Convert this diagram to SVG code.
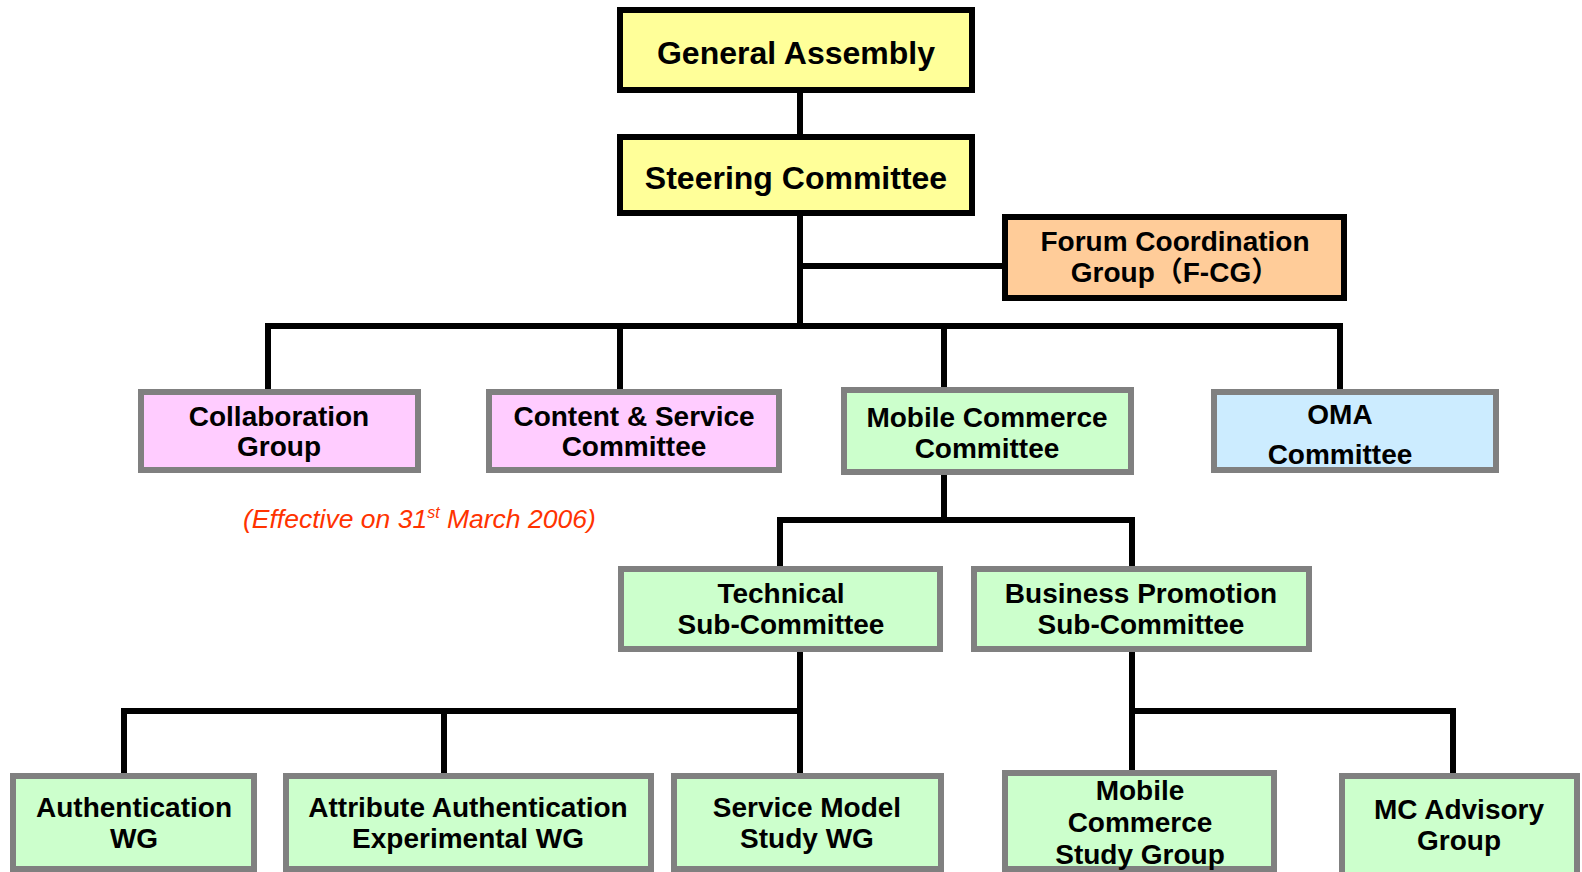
<svg xmlns="http://www.w3.org/2000/svg" width="1582" height="872" viewBox="0 0 1582 872">
<style>
.lbl{font-family:"Liberation Sans",Arial,sans-serif;font-weight:bold;fill:#000;text-anchor:middle}
.top{font-size:32px}
.mid{font-size:28px}
.yel{fill:#FFFF99;stroke:#000;stroke-width:6}
.org{fill:#FFCC99;stroke:#000;stroke-width:6}
.pnk{fill:#FFCCFF;stroke:#808080;stroke-width:6}
.grn{fill:#CCFFCC;stroke:#808080;stroke-width:6}
.blu{fill:#CCECFF;stroke:#808080;stroke-width:6}
.con{fill:none;stroke:#000;stroke-width:6;stroke-linecap:square}
.note{font-family:"Liberation Sans",Arial,sans-serif;font-style:italic;font-size:26.5px;fill:#FF3300}
</style>
<rect width="1582" height="872" fill="#fff"/>
<g id="connectors">
<path class="con" d="M800 93V134"/>
<path class="con" d="M800 216V326"/>
<path class="con" d="M800 266H1002"/>
<path class="con" d="M268 389V326H1340V389"/>
<path class="con" d="M620 326V389"/>
<path class="con" d="M944 326V387"/>
<path class="con" d="M944 475V520"/>
<path class="con" d="M780 566V520H1132V566"/>
<path class="con" d="M800 652V773"/>
<path class="con" d="M124 773V711H800"/>
<path class="con" d="M444 711V773"/>
<path class="con" d="M1132 652V770"/>
<path class="con" d="M1132 711H1453V773"/>
</g>
<g id="general-assembly">
<rect class="yel" x="620" y="10" width="352" height="80"/>
<text class="lbl top" x="796" y="64">General Assembly</text>
</g>
<g id="steering-committee">
<rect class="yel" x="620" y="137" width="352" height="76"/>
<text class="lbl top" x="796" y="189">Steering Committee</text>
</g>
<g id="forum-coordination-group">
<rect class="org" x="1005" y="217" width="339" height="81"/>
<text class="lbl mid" x="1175" y="251">Forum Coordination</text>
<text class="lbl mid" x="1175" y="282" style="font-family:'Liberation Sans','Noto Sans CJK JP',sans-serif">Group（F-CG）</text>
</g>
<g id="collaboration-group">
<rect class="pnk" x="141" y="392" width="277" height="78"/>
<text class="lbl mid" x="279" y="426">Collaboration</text>
<text class="lbl mid" x="279" y="456">Group</text>
</g>
<g id="content-service-committee">
<rect class="pnk" x="489" y="392" width="290" height="78"/>
<text class="lbl mid" x="634" y="426">Content &amp; Service</text>
<text class="lbl mid" x="634" y="456">Committee</text>
</g>
<g id="mobile-commerce-committee">
<rect class="grn" x="844" y="390" width="287" height="82"/>
<text class="lbl mid" x="987" y="427">Mobile Commerce</text>
<text class="lbl mid" x="987" y="458">Committee</text>
</g>
<g id="oma-committee">
<rect class="blu" x="1214" y="392" width="282" height="78"/>
<text class="lbl mid" x="1340" y="424">OMA</text>
<text class="lbl mid" x="1340" y="464">Committee</text>
</g>
<text class="note" x="243" y="528">(Effective on 31<tspan font-size="16" dy="-10">st</tspan><tspan dy="10"> March 2006)</tspan></text>
<g id="technical-sub-committee">
<rect class="grn" x="621" y="569" width="319" height="80"/>
<text class="lbl mid" x="781" y="603">Technical</text>
<text class="lbl mid" x="781" y="634">Sub-Committee</text>
</g>
<g id="business-promotion-sub-committee">
<rect class="grn" x="974" y="569" width="335" height="80"/>
<text class="lbl mid" x="1141" y="603">Business Promotion</text>
<text class="lbl mid" x="1141" y="634">Sub-Committee</text>
</g>
<g id="authentication-wg">
<rect class="grn" x="13" y="776" width="241" height="93"/>
<text class="lbl mid" x="134" y="817">Authentication</text>
<text class="lbl mid" x="134" y="848">WG</text>
</g>
<g id="attribute-authentication-experimental-wg">
<rect class="grn" x="286" y="776" width="365" height="93"/>
<text class="lbl mid" x="468" y="817">Attribute Authentication</text>
<text class="lbl mid" x="468" y="848">Experimental WG</text>
</g>
<g id="service-model-study-wg">
<rect class="grn" x="674" y="776" width="267" height="93"/>
<text class="lbl mid" x="807" y="817">Service Model</text>
<text class="lbl mid" x="807" y="848">Study WG</text>
</g>
<g id="mobile-commerce-study-group">
<rect class="grn" x="1005" y="773" width="269" height="96"/>
<text class="lbl mid" x="1140" y="800">Mobile</text>
<text class="lbl mid" x="1140" y="832">Commerce</text>
<text class="lbl mid" x="1140" y="864">Study Group</text>
</g>
<g id="mc-advisory-group">
<rect class="grn" x="1342" y="776" width="235" height="100"/>
<text class="lbl mid" x="1459" y="819">MC Advisory</text>
<text class="lbl mid" x="1459" y="850">Group</text>
</g>
</svg>
